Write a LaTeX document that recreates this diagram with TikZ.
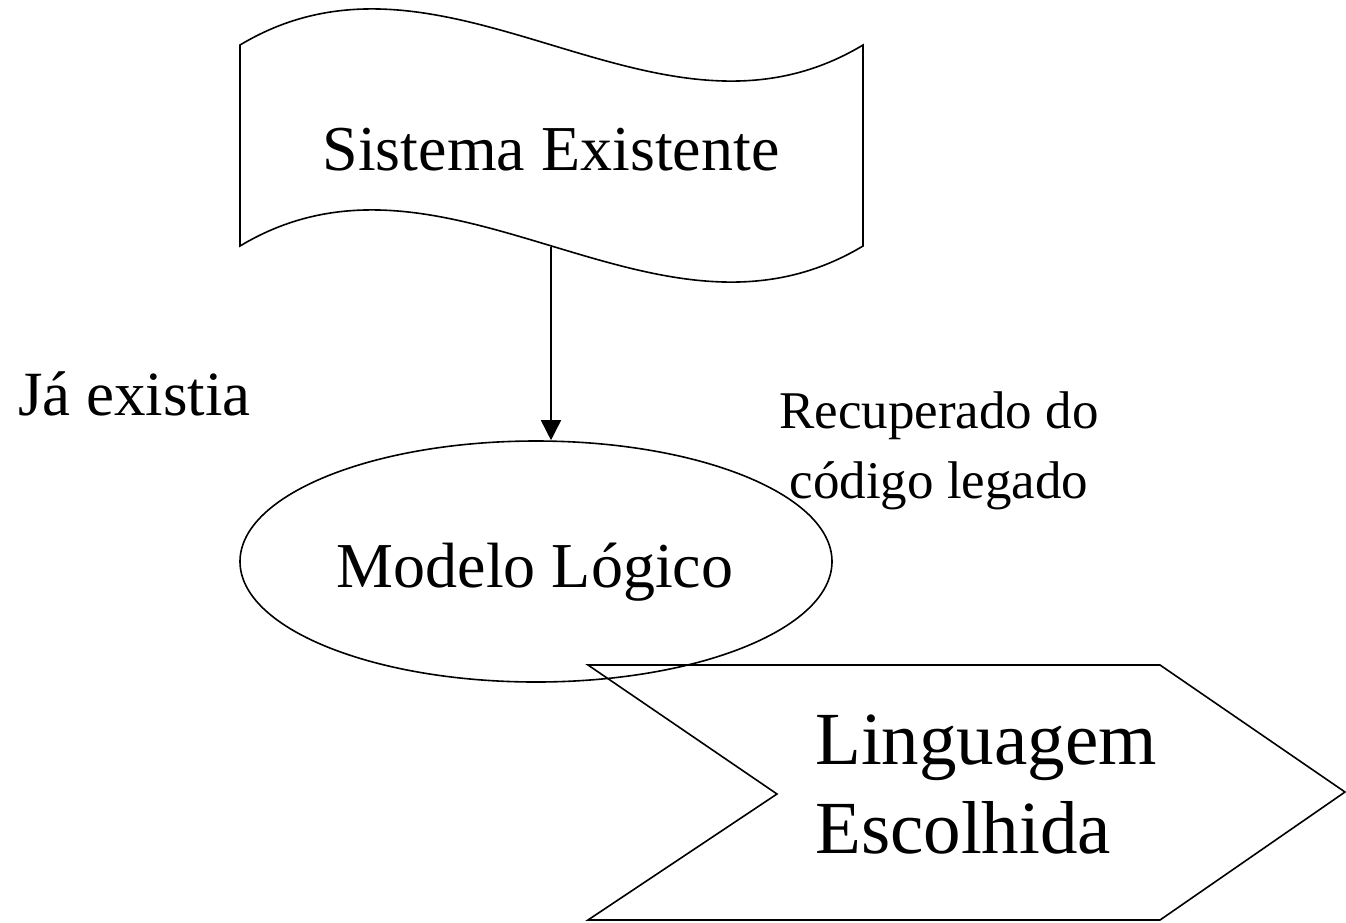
\documentclass[tikz,border=0pt]{standalone}
\usepackage{fontspec}
\setmainfont{Liberation Serif}
\usetikzlibrary{shapes.geometric,arrows.meta}
\tikzset{
  outline/.style={draw=black, line width=1.6pt, line join=miter},
  lbl/.style={inner sep=0pt, anchor=base},
  conn/.style={draw=black, line width=1.6pt, -{Triangle[length=20pt,width=20pt]}}
}
\begin{document}
\begin{tikzpicture}[x=1pt,y=-1pt]
\useasboundingbox (0,0) rectangle (1346,922);
% wavy document shape
\draw[outline] (240,45) .. controls (448,-80) and (655,170) .. (863,45)
  -- (863,246) .. controls (655,371) and (448,121) .. (240,246) -- cycle;
\coordinate (sysbot) at (551,247);
\node[lbl, font=\fontsize{64}{70}\selectfont] (sys) at (551,170) {Sistema Existente};
% ellipse
\node[outline, ellipse, minimum width=592pt, minimum height=241pt, inner sep=0pt] (modelo) at (536,561.5) {};
\node[lbl, font=\fontsize{64}{70}\selectfont] (modtxt) at (535,587) {Modelo Lógico};
% arrow
\draw[conn] (sysbot) -- (sysbot |- modelo.north);
% labels
\node[lbl, anchor=base west, font=\fontsize{63}{70}\selectfont] (ja) at (18,415) {Já existia};
\node[lbl, align=center, font=\fontsize{53}{70}\selectfont] (rec) at (939,498) {Recuperado do\\código legado};
% chevron
\draw[outline] (588,665) -- (1160,665) -- (1345,792) -- (1160,920) -- (588,920) -- (777,794) -- cycle;
\node[lbl, anchor=base west, align=left, font=\fontsize{75}{89}\selectfont] (ling) at (815,853) {Linguagem\\Escolhida};
\end{tikzpicture}
\end{document}
